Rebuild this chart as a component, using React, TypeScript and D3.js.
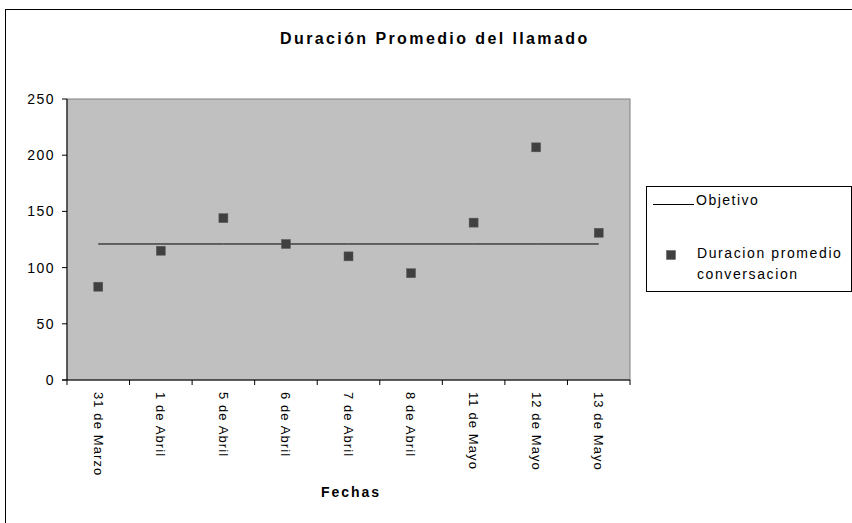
import React from "react";
import * as d3 from "d3";

const categories = ["31 de Marzo", "1 de Abril", "5 de Abril", "6 de Abril", "7 de Abril", "8 de Abril", "11 de Mayo", "12 de Mayo", "13 de Mayo"];
const duracion = [83, 115, 144, 121, 110, 95, 140, 207, 131];
const objetivo = [121, 121, 121, 121, 121, 121, 121, 121, 121];
const yTicks = [0, 50, 100, 150, 200, 250];

const FONT = "'Liberation Sans', Arial, sans-serif";

export default function App() {
  const W = 852, H = 523;
  const left = 67, right = 630, top = 99, bottom = 380;
  const x = d3.scaleBand<string>().domain(categories).range([left, right]);
  const y = d3.scaleLinear().domain([0, 250]).range([bottom, top]);
  const cx = (c: string) => (x(c) as number) + x.bandwidth() / 2;
  const line = d3.line<number>().x((_, i) => cx(categories[i])).y((d) => y(d));
  const ms = 9;
  return (
    <svg width={W} height={H} style={{ position: "absolute", left: 0, top: 0 }} fontFamily={FONT}>
      <rect x={0} y={0} width={W} height={H} fill="#fff" />
      <rect x={5.5} y={9.5} width={900} height={600} fill="#fff" stroke="#000" strokeWidth={1} />
      <text x={280} y={44} fontSize={16} fontWeight="bold" letterSpacing={2.4}>Duración Promedio del llamado</text>
      <rect x={left} y={top} width={right - left} height={bottom - top} fill="#c0c0c0" stroke="#808080" strokeWidth={1} />
      <line x1={left} x2={left} y1={top} y2={bottom} stroke="#000" />
      <line x1={left - 5} x2={right} y1={bottom} y2={bottom} stroke="#000" />
      {yTicks.map((t) => (
        <g key={t}>
          <line x1={left - 5} x2={left} y1={y(t)} y2={y(t)} stroke="#000" />
          <text x={left - 12} y={y(t)} dy="0.36em" textAnchor="end" fontSize={14} letterSpacing={1.5}>{t}</text>
        </g>
      ))}
      {categories.map((c, i) => (
        <line key={"t" + i} x1={x(c) as number} x2={x(c) as number} y1={bottom} y2={bottom + 5} stroke="#000" />
      ))}
      <line x1={right} x2={right} y1={bottom} y2={bottom + 5} stroke="#000" />
      {categories.map((c) => (
        <text key={c} transform={`translate(${cx(c)},${bottom + 12}) rotate(90)`} fontSize={13} letterSpacing={1.1} dy="0.35em">{c}</text>
      ))}
      <text x={351} y={497} textAnchor="middle" fontSize={14} fontWeight="bold" letterSpacing={2}>Fechas</text>
      <path d={line(objetivo) || ""} fill="none" stroke="#000" strokeWidth={1} />
      {duracion.map((v, i) => (
        <rect key={i} x={cx(categories[i]) - ms / 2} y={y(v) - ms / 2} width={ms} height={ms} fill="#404040" stroke="#5a5a5a" strokeWidth={0.5} />
      ))}
      <rect x={646.5} y={186.5} width={205} height={105} fill="#fff" stroke="#000" />
      <line x1={653} x2={694} y1={204.5} y2={204.5} stroke="#000" />
      <text x={696} y={200} dy="0.35em" fontSize={14} letterSpacing={1.5}>Objetivo</text>
      <rect x={671 - ms / 2} y={255 - ms / 2} width={ms} height={ms} fill="#404040" stroke="#5a5a5a" strokeWidth={0.5} />
      <text x={697} y={253} dy="0.35em" fontSize={14} letterSpacing={1.6}>Duracion promedio</text>
      <text x={697} y={274} dy="0.35em" fontSize={14} letterSpacing={1.6}>conversacion</text>
    </svg>
  );
}
